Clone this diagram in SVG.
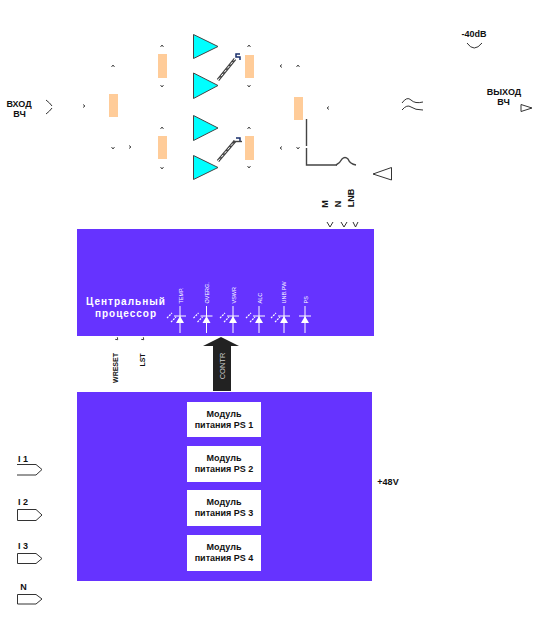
<svg xmlns="http://www.w3.org/2000/svg" width="538" height="632" viewBox="0 0 538 632">
<defs><style>
text{font-family:"Liberation Sans",Arial,sans-serif;fill:#111}
.s{font-size:9px;font-weight:bold;text-anchor:middle}
.r{font-size:7px;font-weight:bold;text-anchor:middle}
.split{fill:#ffcc99}
.amp{fill:#00ffff;stroke:#444;stroke-width:1}
.ln{fill:none;stroke:#333;stroke-width:1}
.th{fill:none;stroke:#444;stroke-width:1.4}
.blue{fill:#6633ff}
.wt{font-size:5.500px;text-anchor:start}
.wl{stroke:#fff;stroke-width:1;fill:none}
.ray{stroke:#fff;stroke-width:1.200px;fill:none;stroke-dasharray:2 1}
.dot{fill:none;stroke:#333;stroke-width:.9}
.sw{fill:none;stroke:#444;stroke-width:3}
.swi{fill:none;stroke:#fff;stroke-width:1;stroke-dasharray:3 2}
.ico{fill:none;stroke:#1a2f6b;stroke-width:1.500}
</style>
<g id="led"><path class="wl" d="M0 -13V14M-6 -3H6"/><path d="M-4 4L0 -3L4 4Z" fill="#fff"/><path class="ray" d="M-13 -1l5 -5M-9 3l5 -5"/></g>
<path id="tick" class="dot" d="M-1.500 1L0 -1L1.500 1"/>
</defs>
<g id="connectors">
<path class="th" d="M306.500 119V146M306.500 148V165H337"/>
<path class="th" d="M336 165Q340 163 342 159Q345 156 348 159Q350 164 356 165"/>
<path class="sw" d="M218 80L235 59M218 161L235 141"/>
<path class="swi" d="M218 80L235 59M218 161L235 141"/>
<path class="ico" d="M240 54H236V57H240V60M236 138H240V142"/>
<path class="th" d="M233 141.500H242"/>
<path class="ln" d="M46 100Q50 103 52 106M46 114Q50 111 52 108M467 43Q474 53 482 43"/>
<path class="ln" d="M402 103Q407 96 411 100T423 102M402 110Q407 104 411 107T423 110"/>
<path class="ln" d="M373 174L391.500 167.500V180Z"/>
<path class="ln" d="M521 104.500L532 108L521 111.500Z"/>
<use href="#tick" transform="translate(113 66)"/><use href="#tick" transform="translate(84 106) rotate(90)"/><use href="#tick" transform="translate(113 148) rotate(180)"/><use href="#tick" transform="translate(130 147) rotate(90)"/>
<use href="#tick" transform="translate(162 46)"/><use href="#tick" transform="translate(162 86) rotate(180)"/><use href="#tick" transform="translate(162 128)"/><use href="#tick" transform="translate(162 168) rotate(180)"/>
<use href="#tick" transform="translate(249 46)"/><use href="#tick" transform="translate(249 86) rotate(180)"/><use href="#tick" transform="translate(249 128)"/><use href="#tick" transform="translate(249 167) rotate(180)"/>
<use href="#tick" transform="translate(281 66) rotate(-90)"/><use href="#tick" transform="translate(298 66)"/><use href="#tick" transform="translate(281 148) rotate(-90)"/><use href="#tick" transform="translate(298 148) rotate(180)"/><use href="#tick" transform="translate(328 108) rotate(-90)"/>
<use href="#tick" transform="translate(117 339) rotate(135)"/><use href="#tick" transform="translate(143 339) rotate(135)"/>
<path class="ln" d="M327 222L330 227L333 222M341 222L344 227L347 222M353 222L355.500 227L358 222"/>
<path d="M213 391V346H203L221 337L239 346H231V391Z" fill="#222"/>
</g>
<g id="n-split1"><rect class="split" x="109" y="94" width="9" height="23"/></g>
<g id="n-split2"><rect class="split" x="158" y="54" width="9" height="24"/></g>
<g id="n-split3"><rect class="split" x="158" y="136" width="9" height="23"/></g>
<g id="n-split4"><rect class="split" x="245" y="55" width="9" height="23"/></g>
<g id="n-split5"><rect class="split" x="245" y="136" width="9" height="24"/></g>
<g id="n-split6"><rect class="split" x="294" y="97" width="9" height="23"/></g>
<g id="n-amp1"><path class="amp" d="M193.500 34.500V58.500L218 46.500Z"/></g>
<g id="n-amp2"><path class="amp" d="M193.500 73V98.500L218 85.500Z"/></g>
<g id="n-amp3"><path class="amp" d="M193.500 115.500V140.500L218 128Z"/></g>
<g id="n-amp4"><path class="amp" d="M193.500 155.500V179.500L218 167.500Z"/></g>
<g id="n-cpu"><rect class="blue" x="77" y="229" width="297" height="107"/>
<text x="126" y="305" font-size="10" font-weight="bold" letter-spacing="1" text-anchor="middle" style="fill:#fff">Центральный</text>
<text x="126" y="316.500" font-size="10" font-weight="bold" letter-spacing="1" text-anchor="middle" style="fill:#fff">процессор</text>
<use href="#led" x="180" y="319"/><use href="#led" x="206.500" y="319"/><use href="#led" x="233" y="319"/><use href="#led" x="259" y="319"/><use href="#led" x="284" y="319"/>
<path class="wl" d="M305 306V333M299 316H311"/><path d="M301 323L305 316L309 323Z" fill="#fff"/>
<text class="wt" transform="translate(182.500 303.500) rotate(-90)" style="fill:#fff">TEMP.</text>
<text class="wt" transform="translate(209 303.500) rotate(-90)" style="fill:#fff">OVERG.</text>
<text class="wt" transform="translate(236 303.500) rotate(-90)" style="fill:#fff">VSWR</text>
<text class="wt" transform="translate(262 303.500) rotate(-90)" style="fill:#fff">ALC</text>
<text class="wt" transform="translate(286 303.500) rotate(-90)" style="fill:#fff">UNB.PW</text>
<text class="wt" transform="translate(308 303.500) rotate(-90)" style="fill:#fff">PS</text>
</g>
<g id="n-psu"><rect class="blue" x="77" y="392" width="295" height="189"/></g>
<g id="n-mod1"><rect x="187" y="402" width="74" height="35" fill="#fff"/><text class="s" x="224" y="417">Модуль</text><text class="s" x="224" y="428">питания PS 1</text></g>
<g id="n-mod2"><rect x="187" y="446" width="74" height="36" fill="#fff"/><text class="s" x="224" y="461">Модуль</text><text class="s" x="224" y="472">питания PS 2</text></g>
<g id="n-mod3"><rect x="187" y="490" width="74" height="36" fill="#fff"/><text class="s" x="224" y="505">Модуль</text><text class="s" x="224" y="516">питания PS 3</text></g>
<g id="n-mod4"><rect x="187" y="535" width="74" height="36" fill="#fff"/><text class="s" x="224" y="550">Модуль</text><text class="s" x="224" y="561">питания PS 4</text></g>
<g id="labels">
<text class="s" x="19" y="107">ВХОД</text><text class="s" x="19.500" y="116.500">ВЧ</text>
<text class="s" x="474" y="37">-40dB</text>
<text class="s" x="504" y="94.500">ВЫХОД</text><text class="s" x="503.500" y="104.500">ВЧ</text>
<text class="s" x="388" y="485">+48V</text>
<text class="s" x="23" y="461.500">I 1</text><text class="s" x="23" y="505">I 2</text><text class="s" x="23" y="549">I 3</text><text class="s" x="23.500" y="590">N</text>
<text class="r" transform="translate(118 368) rotate(-90)">WRESET</text>
<text class="r" transform="translate(145 360) rotate(-90)">LST</text>
<text transform="translate(225 366) rotate(-90)" text-anchor="middle" font-size="7.500" style="fill:#ccc">CONTR</text>
<text class="s" transform="translate(328 204) rotate(-90)">M</text>
<text class="s" transform="translate(341 204) rotate(-90)">N</text>
<text class="s" transform="translate(353.500 198) rotate(-90)">LNB</text>
</g>
<g id="ports"><path class="ln" d="M17 464.500H36L42 469.500L36 475H17"/><path class="ln" d="M17.500 509.500H36L42 515L36 520.500H17.500Z"/><path class="ln" d="M17.500 553.500H36L42 558.500L36 563.500H17.500Z"/><path class="ln" d="M17.500 594.500H36L42 599L36 604H17.500Z"/></g>
</svg>
